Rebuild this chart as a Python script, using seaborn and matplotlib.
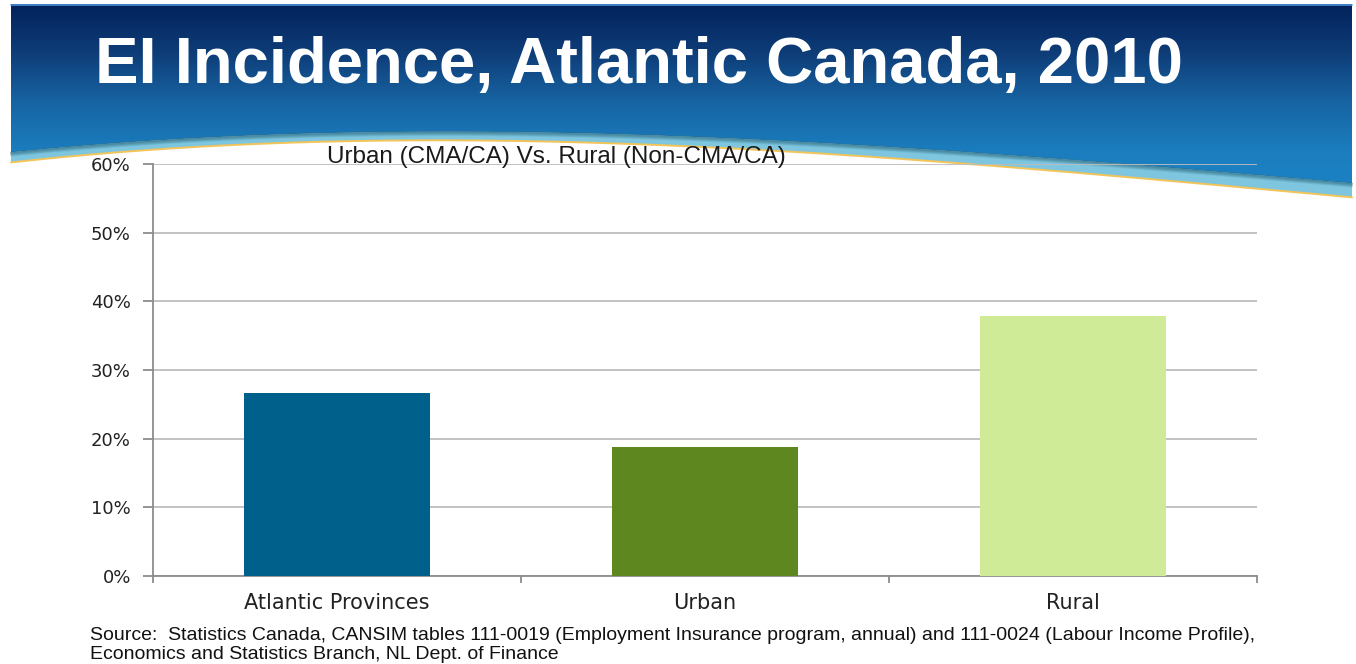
import numpy as np
import pandas as pd
import matplotlib
matplotlib.use("Agg")
import matplotlib.pyplot as plt
from matplotlib.patches import Polygon
from matplotlib.colors import LinearSegmentedColormap
from matplotlib.ticker import PercentFormatter, FixedLocator
import seaborn as sns

# ---- data -------------------------------------------------------------
regions = ["Atlantic Provinces", "Urban", "Rural"]
ei_incidence = [26.7, 18.8, 37.9]          # percent of workforce
bar_colors = ["#00608C", "#5F8720", "#D0EB98"]
y_ticks = [0, 10, 20, 30, 40, 50, 60]

title = "EI Incidence, Atlantic Canada, 2010"
subtitle = "Urban (CMA/CA) Vs. Rural (Non-CMA/CA)"
source = ("Source:  Statistics Canada, CANSIM tables 111-0019 (Employment Insurance program, annual) "
          "and 111-0024 (Labour Income Profile),\nEconomics and Statistics Branch, NL Dept. of Finance")

sns.set_theme(style="white")
plt.rcParams["font.family"] = ["DejaVu Sans"]

W, H = 1356, 664
fig = plt.figure(figsize=(W / 100, H / 100), dpi=100)

# ---- slide header: gradient banner with a wave at its lower edge -------
bg = fig.add_axes([0, 0, 1, 1], zorder=0)
bg.set_xlim(0, W)
bg.set_ylim(H, 0)
bg.axis("off")

x0, x1 = 11, 1352
xs = np.linspace(x0, x1, 300)
edge = np.polyval(np.polyfit([11, 300, 550, 800, 1056, 1352],
                             [152, 135, 132, 141, 160, 183], 3), xs)
lower = np.polyval(np.polyfit([11, 300, 550, 800, 1056, 1352],
                              [162, 144, 140, 152, 172, 197], 3), xs)

banner_cmap = LinearSegmentedColormap.from_list(
    "banner", ["#03225C", "#0E3D78", "#1764A2", "#1B7DBE", "#1C84C6"])
grad = np.linspace(0, 1, 256).reshape(-1, 1)
img = bg.imshow(grad, cmap=banner_cmap, aspect="auto",
                extent=[x0, x1, 200, 4], zorder=1)
banner = Polygon(np.vstack([[[x0, 4], [x1, 4]],
                            np.column_stack([xs[::-1], edge[::-1]])]),
                 closed=True, transform=bg.transData, facecolor="none",
                 edgecolor="none")
bg.add_patch(banner)
img.set_clip_path(banner)

# light band under the wave, with a soft shadow along its upper edge
band = Polygon(np.vstack([np.column_stack([xs, edge]),
                          np.column_stack([xs[::-1], lower[::-1]])]),
               closed=True, facecolor="#7EC6DF", edgecolor="none", zorder=2)
bg.add_patch(band)
for k, a in enumerate(np.linspace(0.55, 0.0, 6)):
    bg.plot(xs, edge + k * 0.9, color="#2F6F86", alpha=a, lw=1.2, zorder=3)
bg.plot(xs, lower, color="#F2C45A", lw=1.4, zorder=3)
bg.plot([x0, x1], [4.5, 4.5], color="#4C8FD6", lw=1.2, zorder=3)

fig.text(95 / W, 1 - 66 / H, title, color="white", fontsize=47,
         fontweight="bold", family=["Liberation Sans"], va="center", ha="left")

# ---- bar chart --------------------------------------------------------
ax = fig.add_axes([153 / W, 88 / H, 1104 / W, 412 / H], zorder=2)
ax.patch.set_alpha(0)

df = pd.DataFrame({"region": regions, "incidence": ei_incidence})
sns.barplot(data=df, x="region", y="incidence", hue="region",
            palette=bar_colors, width=0.505, saturation=1, linewidth=0,
            legend=False, ax=ax, zorder=3)

ax.set_xlim(-0.5, len(regions) - 0.5)
ax.set_ylim(0, 60)
ax.yaxis.set_major_locator(FixedLocator(y_ticks))
ax.yaxis.set_major_formatter(PercentFormatter(decimals=0))
ax.grid(axis="y", color="#BDBDBD", lw=1.3, zorder=0)
ax.set_axisbelow(True)
ax.set_xlabel("")
ax.set_ylabel("")

for side in ("top", "right"):
    ax.spines[side].set_visible(False)
for side in ("left", "bottom"):
    ax.spines[side].set_color("#8C8C8C")
    ax.spines[side].set_linewidth(1.3)

ax.tick_params(axis="y", length=7, width=1.3, color="#8C8C8C", pad=9,
               labelsize=13, labelcolor="#222222", left=True)
ax.tick_params(axis="x", length=0, pad=12, labelsize=15, labelcolor="#222222")
# tick marks on the category boundaries
ax.set_xticks([-0.5, 0.5, 1.5, 2.5], minor=True)
ax.tick_params(axis="x", which="minor", length=5, width=1.3,
               color="#8C8C8C", bottom=True)

ax.set_title(subtitle, fontsize=17.5, family=["Liberation Sans"],
             color="#1A1A1A", pad=1, x=(556 - 153) / 1104)

fig.text(90 / W, 1 - 645 / H, source, fontsize=14, family=["Liberation Sans"],
         color="#111111", va="center", ha="left", linespacing=1.1)

fig.savefig("out.png", dpi=100)
